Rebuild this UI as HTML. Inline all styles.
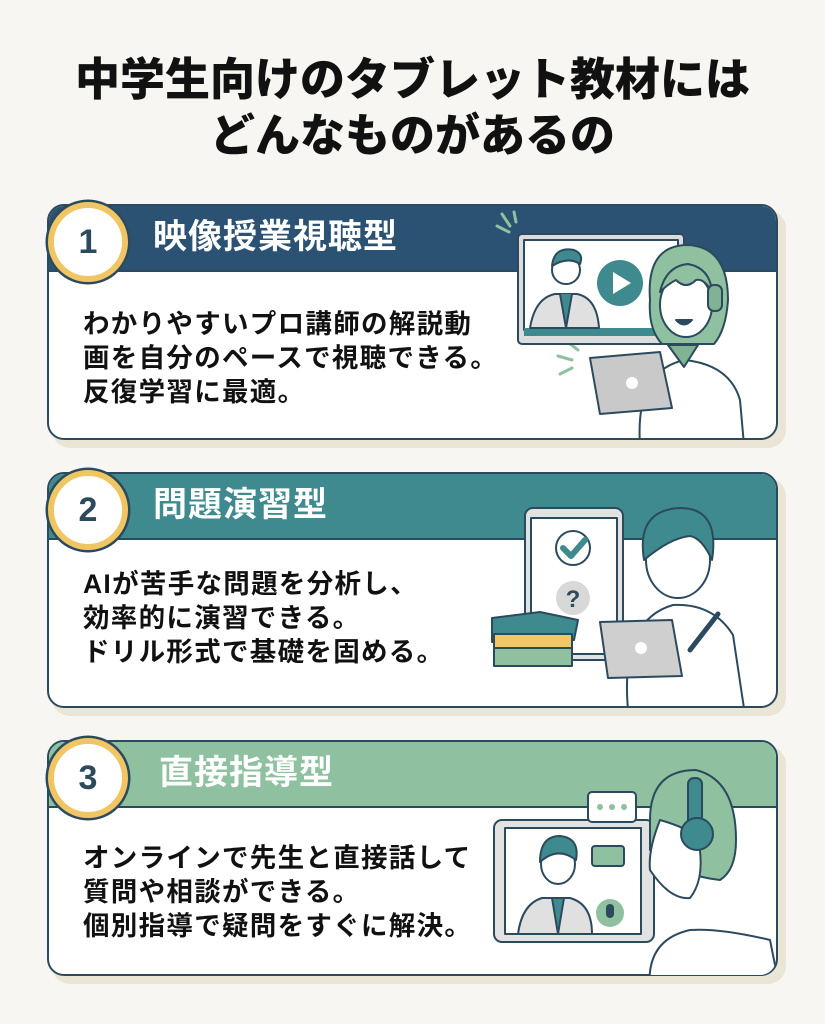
<!DOCTYPE html>
<html><head><meta charset="utf-8">
<style>
body{margin:0;width:825px;height:1024px;background:#f7f6f2;position:relative;overflow:hidden;font-family:"Liberation Sans","Noto Sans CJK JP",sans-serif;}
.title{position:absolute;left:0;width:825px;top:52px;text-align:center;font-size:45px;font-weight:900;line-height:56px;color:#111;}
.shadow{position:absolute;background:#ebe5d6;border-radius:18px;}
.card{position:absolute;left:47px;width:727px;height:232px;border:2.5px solid #2c4a5e;border-radius:17px;background:#fff;overflow:hidden;}
.hd{position:absolute;left:0;top:0;width:100%;height:64px;border-bottom:2px solid #2c4a5e;}
.hd span{position:absolute;left:104px;top:8px;font-size:34px;font-weight:700;color:#fff;line-height:46px;letter-spacing:1px}
.body{position:absolute;left:34px;font-size:26.5px;font-weight:700;line-height:34px;color:#111;white-space:nowrap;letter-spacing:1.3px}
.circ{position:absolute;width:68px;height:68px;border-radius:50%;background:#fff;border:6px solid #f0c564;box-shadow:0 0 0 2.5px #2c4a5e;text-align:center;line-height:68px;font-size:34px;font-weight:700;color:#2c4a5e;}
svg{position:absolute;left:0;top:0}
</style></head><body>
<div class="title">中学生向けのタブレット教材には<br>どんなものがあるの</div>

<div class="shadow" style="left:52px;top:210px;width:734px;height:238px"></div>
<div class="card" style="top:204px"><div class="hd" style="background:#2b5272"><span>映像授業視聴型</span></div>
<div class="body" style="top:101px">わかりやすいプロ講師の解説動<br>画を自分のペースで視聴できる。<br>反復学習に最適。</div></div>
<div class="circ" style="left:48px;top:202px">1</div>

<div class="shadow" style="left:52px;top:478px;width:734px;height:238px"></div>
<div class="card" style="top:472px"><div class="hd" style="background:#3e8a8e"><span>問題演習型</span></div>
<div class="body" style="top:93px">AIが苦手な問題を分析し、<br>効率的に演習できる。<br>ドリル形式で基礎を固める。</div></div>
<div class="circ" style="left:48px;top:470px">2</div>

<div class="shadow" style="left:52px;top:746px;width:734px;height:238px"></div>
<div class="card" style="top:740px"><div class="hd" style="background:#8fc1a0"><span style="left:110px">直接指導型</span></div>
<div class="body" style="top:99px">オンラインで先生と直接話して<br>質問や相談ができる。<br>個別指導で疑問をすぐに解決。</div></div>
<div class="circ" style="left:48px;top:738px">3</div>

<svg width="825" height="1024" viewBox="0 0 825 1024" fill="none" stroke="#2c4a5e" stroke-width="2" stroke-linecap="round" stroke-linejoin="round">
<defs>
<clipPath id="c1"><rect x="40" y="150" width="736" height="288" rx="16"/></clipPath>
<clipPath id="c2"><rect x="40" y="420" width="736" height="286" rx="16"/></clipPath>
<clipPath id="c3"><rect x="40" y="690" width="736" height="285" rx="16"/></clipPath>
</defs>
<g clip-path="url(#c1)">
<g stroke="#8fc1a0" stroke-width="3"><line x1="497" y1="226" x2="509" y2="232"/><line x1="502" y1="214" x2="510" y2="226"/><line x1="514" y1="212" x2="516" y2="222"/>
<line x1="565" y1="340" x2="578" y2="350"/><line x1="558" y1="356" x2="572" y2="360"/><line x1="560" y1="374" x2="572" y2="368"/></g>
<rect x="518" y="234" width="166" height="110" rx="4" fill="#dcdcdc"/>
<rect x="524" y="240" width="154" height="90" fill="#fff"/>
<rect x="524" y="328" width="154" height="8" fill="#3e8a8e" stroke="none"/>
<path d="M530 328 q5-30 25-34 l22 0 q20 4 22 34z" fill="#e0e0e0"/>
<path d="M560 294 l6 34 l6-34" fill="#3e8a8e"/>
<circle cx="566" cy="270" r="14" fill="#fff"/><path d="M552 266 q2-20 22-16 q10 4 6 14 q-12-8-28 2z" fill="#3e8a8e"/>
<circle cx="620" cy="283" r="23" fill="#3e8a8e" stroke="none"/><path d="M613 272 l18 11 l-18 11z" fill="#fff" stroke="none"/>
<path d="M640 445 q-5-75 45-85 q45 5 55 40 l4 45z" fill="#fff"/>
<path d="M668 345 l16 22 l14-22z" fill="#7fb394"/>
<path d="M650 300 q-4-55 38-55 q40 2 40 55 q-2 30-14 44 l-52 0 q-14-15-12-44z" fill="#8fc1a0"/>
<ellipse cx="686" cy="305" rx="26" ry="32" fill="#fff"/>
<path d="M660 292 q6-26 28-28 q22 4 24 28 q-8-14-16-12 q-10 10-20 0 q-8 4-16 12z" fill="#8fc1a0"/>
<rect x="708" y="285" width="14" height="26" rx="6" fill="#7fb394"/>
<path d="M676 320 q8 9 16 0z" fill="#2c4a5e"/>
<path d="M590 358 l70 -6 l12 56 l-72 6z" fill="#c9c9c9"/><circle cx="632" cy="383" r="6" fill="#fff" stroke="none"/>
</g>
<g clip-path="url(#c2)">
<rect x="525" y="508" width="98" height="152" rx="8" fill="#e2e2e2"/>
<rect x="531" y="518" width="86" height="136" fill="#fff"/>
<circle cx="573" cy="548" r="17"/><path d="M563 548 l8 8 l14-16" stroke="#3e8a8e" stroke-width="6"/>
<circle cx="573" cy="598" r="17" fill="#d8d8d8" stroke="none"/><text x="573" y="607" font-size="24" font-weight="700" text-anchor="middle" fill="#2c4a5e" stroke="none" font-family="Liberation Sans">?</text>
<path d="M628 710 q-8-90 45-105 q40-2 60 30 l12 80z" fill="#fff"/>
<ellipse cx="678" cy="560" rx="32" ry="38" fill="#fff"/>
<path d="M644 560 q-8-50 36-52 q40 0 32 52 q-10-22-22-24 q-20 2-46 24z" fill="#3e8a8e"/>
<path d="M492 618 l48-6 l38 8 l-4 20 l-82 2z" fill="#3e8a8e"/>
<rect x="494" y="634" width="78" height="14" fill="#f2c864"/><rect x="494" y="648" width="78" height="18" fill="#8fc1a0"/>
<path d="M600 622 l72-2 l10 56 l-74 2z" fill="#cfcfcf"/><circle cx="641" cy="648" r="6" fill="#fff" stroke="none"/>
<line x1="690" y1="650" x2="718" y2="614" stroke-width="5"/>
</g>
<g clip-path="url(#c3)">
<rect x="494" y="820" width="160" height="122" rx="8" fill="#e2e2e2"/>
<rect x="505" y="828" width="136" height="106" fill="#fff"/>
<path d="M518 934 q4-30 24-36 l28 0 q22 6 22 36z" fill="#e0e0e0"/>
<path d="M552 898 l6 36 l6-36z" fill="#3e8a8e"/>
<ellipse cx="558" cy="864" rx="17" ry="20" fill="#fff"/><path d="M540 862 q0-26 20-26 q20 2 16 24 q-18-14-36 2z" fill="#3e8a8e"/>
<circle cx="610" cy="913" r="14" fill="#8fc1a0" stroke="none"/><rect x="606" y="904" width="8" height="14" rx="4" fill="#2c4a5e" stroke="none"/>
<rect x="588" y="792" width="48" height="30" rx="4" fill="#fff"/><g fill="#8fc1a0" stroke="none"><circle cx="600" cy="807" r="3"/><circle cx="612" cy="807" r="3"/><circle cx="624" cy="807" r="3"/></g>
<rect x="592" y="846" width="32" height="20" rx="3" fill="#8fc1a0"/>
<path d="M650 990 q-5-50 40-60 q30-2 80 10 l10 50z" fill="#fff"/>
<path d="M650 820 q0-50 46-50 q40 10 40 70 q0 30 -16 40 q-40-4-70-30z" fill="#8fc1a0"/>
<path d="M660 820 q-12 30 -10 50 q20 30 40 28 q16-20 8-60 q-10-10-38-18z" fill="#fff"/>
<rect x="688" y="778" width="14" height="60" rx="6" fill="#3e8a8e"/>
<circle cx="697" cy="834" r="16" fill="#3e8a8e"/>
</g>
</svg>
</body></html>
